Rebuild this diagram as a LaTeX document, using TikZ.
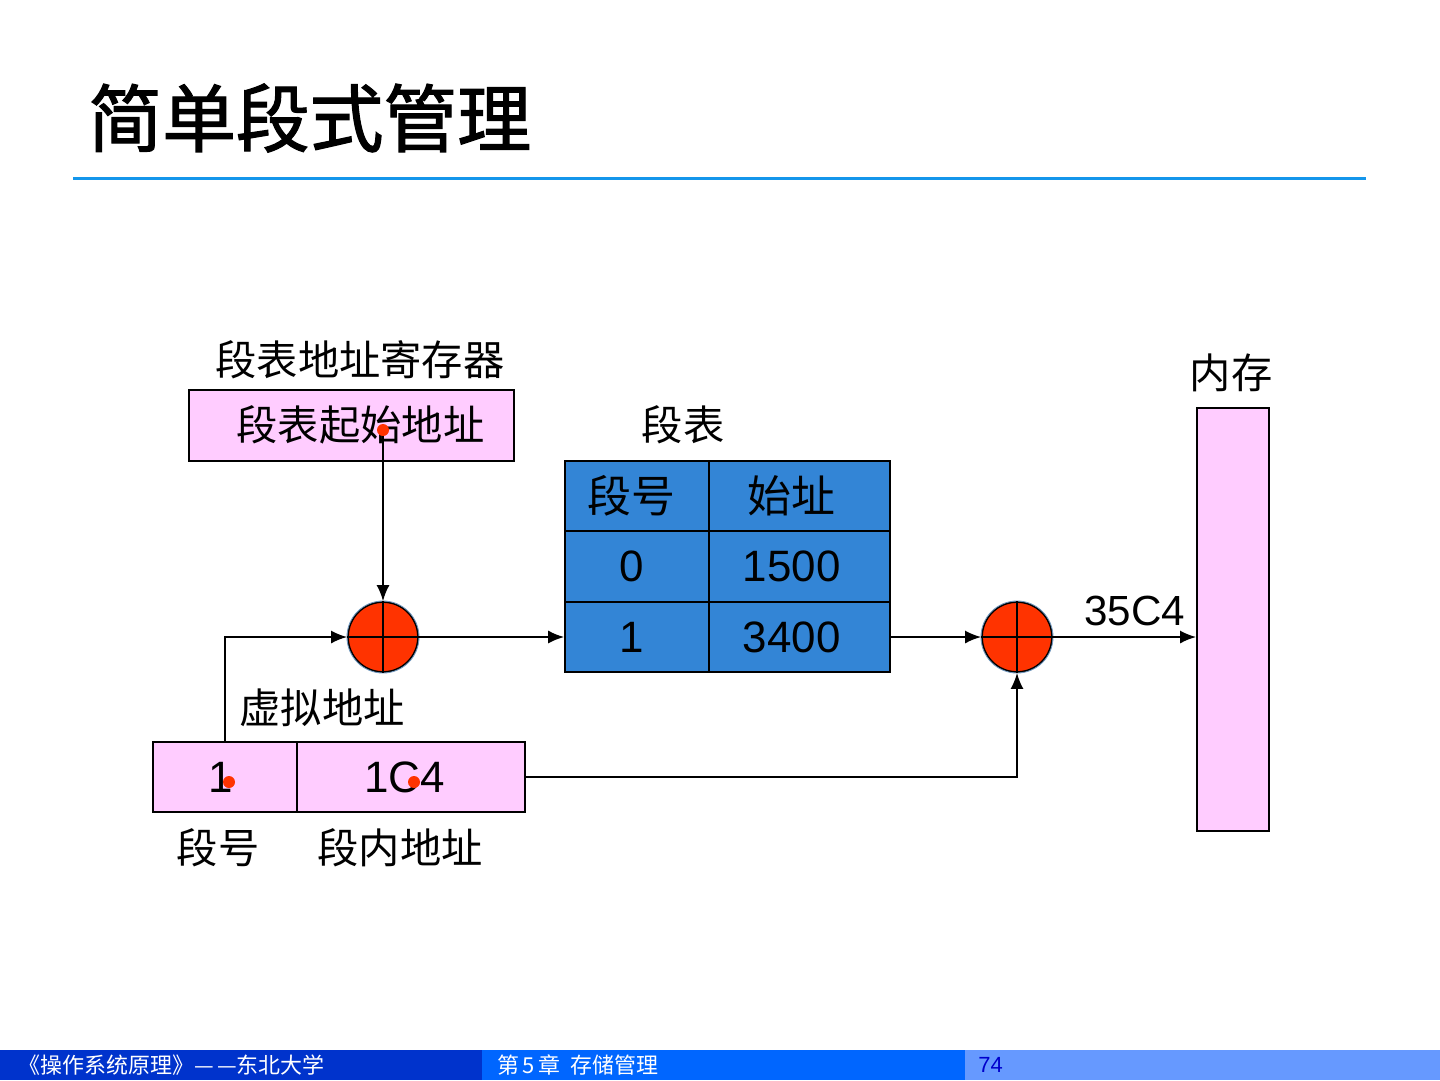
\documentclass[tikz,border=0pt]{standalone}
\usepackage{fontspec}
\setmainfont{Liberation Sans}
\newfontfamily\cjk{Noto Sans CJK SC}
\newfontfamily\cjktitle[FakeBold=1.6]{Noto Sans CJK SC}
\usetikzlibrary{positioning,arrows.meta,calc}

\begin{document}
\begin{tikzpicture}[x=0.02cm,y=-0.02cm,
  box/.style={draw=black,line width=1pt,fill=cpink,inner sep=0pt,minimum height=1.4cm,
    font=\fontsize{25pt}{28pt}\selectfont},
  cell/.style={draw=black,line width=0.9pt,fill=ctab,inner sep=0pt,minimum height=1.41cm,
    font=\fontsize{25pt}{28pt}\selectfont},
  adder/.style={circle,draw=black,line width=1pt,fill=cadd,minimum size=1.4cm,inner sep=0pt},
  dot/.style={circle,fill=cadd,minimum size=0.24cm,inner sep=0pt},
  conn/.style={line width=1.1pt,-{Latex[length=3.2mm,width=2.6mm]}},
  lbl/.style={font=\cjk\fontsize{23.5pt}{26pt}\selectfont,inner sep=0pt},
  foot/.style={font=\cjk\fontsize{12.5pt}{14pt}\selectfont,inner sep=0pt,anchor=west}]
\definecolor{cpink}{RGB}{255,204,255}\definecolor{ctab}{RGB}{51,133,214}
\definecolor{cadd}{RGB}{255,51,0}\definecolor{crule}{RGB}{20,150,235}
\definecolor{cring}{RGB}{110,150,190}
\definecolor{cfoota}{RGB}{0,51,204}\definecolor{cfootb}{RGB}{0,102,255}
\definecolor{cfootc}{RGB}{102,153,255}\definecolor{cfootn}{RGB}{0,0,204}
\fill[white] (0,0) rectangle (1440,1080);
% ===== title and rule =====
\node[font=\cjktitle\fontsize{42pt}{46pt}\selectfont,anchor=west,inner sep=0pt] (title) at (88,118) {简单段式管理};
\draw[crule,line width=1.7pt] (73,178) -- (1366,178);
% ===== segment table base register =====
\node[lbl] (reglbl) at (360,360) {段表地址寄存器};
\node[box,minimum width=6.5cm,minimum height=1.42cm] (reg) at (351.5,425.5) {};
\node[lbl] (regtxt) at (360.5,425) {段表起始地址};
% ===== segment table =====
\node[lbl] (tablbl) at (683,425) {段表};
\foreach \r/\y/\a/\b in {0/496/{\cjk 段号}/{\cjk 始址},1/566.5/0/1500,2/637/1/3400}{
  \node[cell,minimum width=2.88cm] (t\r0) at (637,\y) {\a\hspace*{6pt}};
  \node[cell,minimum width=3.62cm] (t\r1) at (799.5,\y) {\b\hspace*{9pt}};}
% ===== adders =====
\node[adder] (add1) at (383,637) {};
\node[adder] (add2) at (1017,637) {};
\foreach \a in {add1,add2}{
  \draw[cring,line width=0.5pt] (\a) circle (0.72cm);
  \draw[line width=0.6pt] (\a.north) -- (\a.south) (\a.west) -- (\a.east);}
% ===== virtual address =====
\node[lbl] (valbl) at (322,708) {虚拟地址};
\node[box,minimum width=2.88cm] (va0) at (225,777) {1\hspace*{5pt}};
\node[box,minimum width=4.56cm] (va1) at (411,777) {1C4\hspace*{7pt}};
\node[lbl] (segno) at (218,848) {段号};
\node[lbl] (offs) at (400,848) {段内地址};
% ===== memory =====
\node[lbl] (memlbl) at (1231,373) {内存};
\node[box,minimum width=1.44cm,minimum height=8.46cm] (mem) at (1233,619.5) {};
% ===== connectors =====
\node[dot] (d0) at (383,430) {};
\draw[conn] (d0) -- (add1);
\draw[conn] (va0.north) |- (add1);
\draw[conn] (add1) -- (t20);
\draw[conn] (t21) -- (add2);
\draw[conn] (add2) -- (add2 -| mem.west)
  node[pos=0.57,above=6pt,inner sep=0pt,font=\fontsize{24pt}{28pt}\selectfont] (phys) {35C4};
\draw[conn] (va1) -| (add2);
\foreach \n/\x in {d1/229,d2/414}{
  \node[dot] (\n) at (\x,782) {};}
% ===== footer =====
\fill[cfoota] (0,1050) rectangle (482,1080);
\fill[cfootb] (482,1050) rectangle (965,1080);
\fill[cfootc] (965,1050) rectangle (1440,1080);
\node[foot,text=white] (f1) at (18,1065) {《操作系统原理》—\,—东北大学};
\node[foot,text=white] (f2) at (497,1065) {第\,5\,章\ \ 存储管理};
\node[foot,text=cfootn,font=\fontsize{12.5pt}{14pt}\selectfont] (f3) at (978,1065) {74};
\end{tikzpicture}
\end{document}
